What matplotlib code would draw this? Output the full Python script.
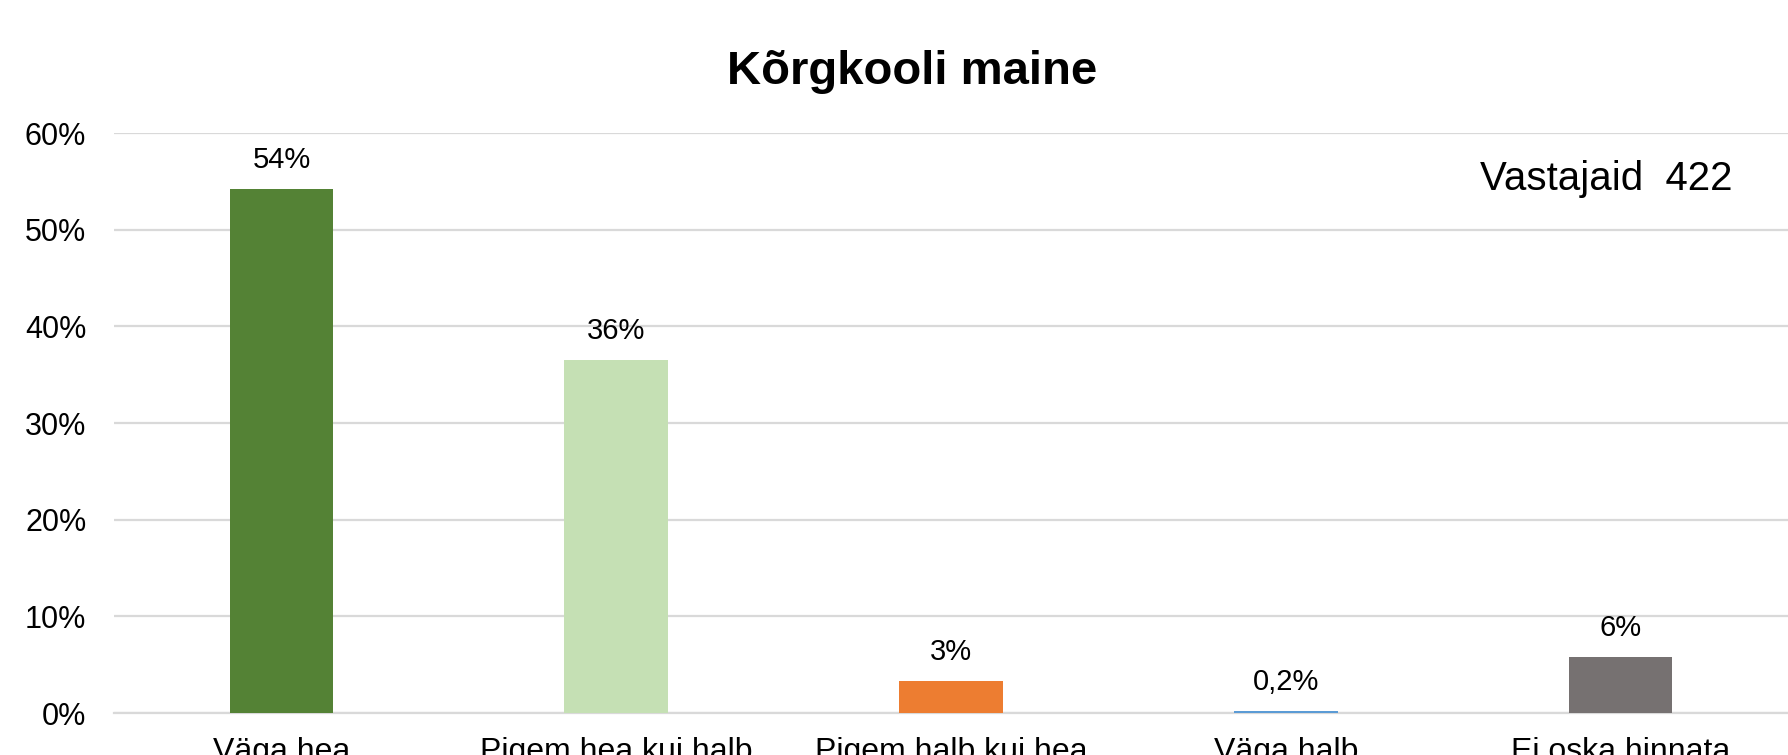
import matplotlib
matplotlib.use("Agg")
import matplotlib.pyplot as plt
from matplotlib.ticker import PercentFormatter

plt.rcParams['font.family'] = ['Liberation Sans', 'DejaVu Sans']

# data
categories = ['Väga hea', 'Pigem hea kui halb', 'Pigem halb kui hea', 'Väga halb', 'Ei oska hinnata']
values = [54.2, 36.5, 3.3, 0.2, 5.8]
value_labels = ['54%', '36%', '3%', '0,2%', '6%']
colors = ['#548235', '#C5E0B4', '#ED7D31', '#5B9BD5', '#767171']
yticks = [0, 10, 20, 30, 40, 50, 60]

fig = plt.figure(figsize=(17.88, 7.55), dpi=100)
ax = fig.add_axes([0.0638, 0.0556, 0.9362, 0.7682])

x = range(len(categories))
bars = ax.bar(x, values, width=0.31, color=colors, zorder=3)
for b, lab in zip(bars, value_labels):
    ax.annotate(lab, (b.get_x() + b.get_width() / 2, b.get_height()),
                xytext=(0, 11), textcoords='offset points',
                ha='center', va='bottom', fontsize=21)

ax.set_xlim(-0.5, len(categories) - 0.5)
ax.set_ylim(0, 60)
ax.set_yticks(yticks)
ax.yaxis.set_major_formatter(PercentFormatter(decimals=0))
ax.set_xticks(list(x))
ax.set_xticklabels(categories)
ax.tick_params(axis='y', length=0, pad=20, labelsize=22)
ax.tick_params(axis='x', length=0, pad=17, labelsize=23)

ax.grid(axis='y', color='#D9D9D9', linewidth=1.6, zorder=0)
for s in ['top', 'right', 'left']:
    ax.spines[s].set_visible(False)
ax.spines['bottom'].set_color('#D9D9D9')
ax.spines['bottom'].set_linewidth(1.6)

ax.text(0.967, 0.92, 'Vastajaid  422', transform=ax.transAxes,
        ha='right', va='center', fontsize=29)
fig.text(0.51, 0.905, 'Kõrgkooli maine', ha='center', va='center',
         fontsize=34, fontweight='bold')

fig.savefig('out.png', dpi=100)
